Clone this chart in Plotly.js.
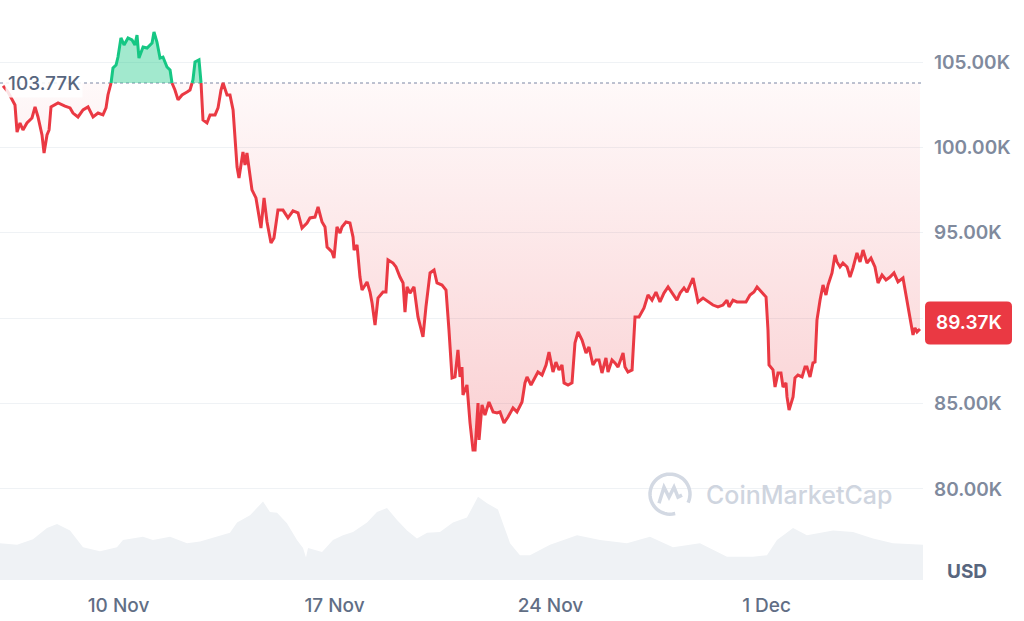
<!DOCTYPE html>
<html><head><meta charset="utf-8">
<script src="https://cdn.plot.ly/plotly-3.0.1.min.js"></script>
<style>html,body{margin:0;padding:0;background:#fff}#chart{width:1024px;height:621px}</style>
</head><body><div id="chart"></div>
<script>
// Bitcoin price (thousands USD), hours after 6 Nov 2025 00:00 UTC
const startDate = Date.UTC(2025, 10, 6, 0, 0, 0);
const priceHours = [6.2,10.1,15.5,17.1,19.4,21.7,24.8,28.7,31.1,33.4,36.5,38.1,40.4,42.0,43.5,49.0,54.4,58.3,60.6,64.5,68.4,72.3,76.2,80.1,83.9,86.3,87.8,90.2,91.7,94.1,95.6,97.9,100.3,103.4,106.5,108.8,110.4,111.9,115.1,118.2,122.1,123.6,125.9,128.3,130.6,133.7,136.1,137.6,139.9,142.3,145.4,149.3,151.6,153.9,155.5,158.6,160.2,161.7,164.8,167.2,171.1,173.4,175.7,177.3,180.4,182.7,185.1,188.2,189.7,192.8,194.4,195.9,199.8,202.9,206.8,209.2,211.5,214.6,216.9,220.0,223.9,227.8,231.7,235.6,238.7,242.6,244.9,248.8,251.2,254.3,256.6,258.2,262.0,263.6,265.9,268.3,269.8,272.9,276.0,278.4,279.2,281.5,283.8,285.4,289.3,291.6,293.2,295.5,297.8,301.7,304.0,305.6,309.5,311.8,314.9,317.3,318.8,320.4,322.7,325.8,328.9,332.8,335.1,338.3,341.4,343.7,347.6,350.7,353.0,355.4,357.7,360.0,361.6,363.1,363.9,367.0,369.4,371.7,373.3,375.6,376.4,378.7,381.0,384.1,387.3,390.4,392.7,395.8,398.9,402.8,405.9,409.8,412.1,413.7,416.8,419.9,422.2,425.4,428.5,430.8,433.9,436.2,438.6,440.9,442.5,445.6,448.7,451.0,453.4,456.5,459.6,461.9,465.0,467.4,469.7,472.0,475.1,476.7,479.8,482.1,484.5,488.4,489.9,492.2,495.4,497.7,500.8,504.7,507.8,510.9,514.0,517.1,520.2,523.4,527.2,530.3,532.7,535.8,538.1,540.5,542.8,545.1,546.7,550.6,554.5,558.3,562.2,566.1,569.2,570.8,573.9,577.0,580.9,584.0,587.1,590.2,592.6,596.5,599.6,601.1,601.9,605.0,606.6,608.9,611.2,612.8,615.1,615.9,617.5,620.6,622.1,624.4,627.6,629.9,631.4,633.8,636.1,637.7,639.2,641.6,643.9,646.2,647.8,650.9,653.2,654.8,657.1,659.4,662.6,664.9,667.2,670.3,672.7,675.0,678.1,681.2,684.3,686.7,689.8,692.9,696.0,699.1,702.2,706.1,708.4,710.8,713.9,715.4,717.0,719.3];
const priceK = [103.60,103.24,102.48,100.90,101.43,101.02,101.43,101.72,102.37,101.78,100.73,99.67,100.73,101.02,102.37,102.60,102.42,102.31,102.01,101.78,102.19,102.37,101.78,102.01,101.90,102.31,103.07,103.77,104.65,104.82,105.29,106.41,106.00,106.41,106.29,106.00,106.58,105.23,105.88,105.82,106.11,106.76,106.17,105.23,105.29,104.71,104.53,103.77,103.36,102.78,103.07,103.24,103.36,103.95,105.00,105.12,103.77,101.60,101.43,101.90,101.90,102.31,103.36,103.77,103.07,103.07,102.19,98.85,98.21,99.73,98.97,99.67,97.51,97.04,95.28,97.04,95.63,94.40,94.70,96.33,96.33,95.87,96.28,96.16,95.28,95.57,95.87,95.92,96.51,95.63,95.34,94.17,93.88,93.52,95.34,94.99,95.34,95.63,95.57,94.75,93.99,94.29,92.41,91.65,92.12,91.53,90.89,89.60,91.18,91.53,91.53,93.41,93.23,93.00,92.41,92.06,90.36,91.83,91.47,91.83,90.07,88.90,90.66,92.65,92.82,92.06,91.94,91.65,89.31,86.50,86.56,88.14,86.56,87.14,85.50,86.09,83.86,82.28,82.28,85.03,82.87,84.92,84.33,85.09,84.51,84.45,84.51,83.86,84.21,84.74,84.51,85.09,86.21,86.56,86.09,86.50,86.85,86.67,87.26,88.02,86.85,87.43,86.97,87.26,86.21,86.09,86.21,88.55,89.19,88.72,87.96,88.31,87.26,87.55,87.55,86.79,87.67,86.85,87.55,87.38,87.14,87.96,87.14,86.85,86.97,90.07,90.07,90.60,91.36,91.06,91.53,90.95,91.47,91.83,91.36,91.06,91.47,91.77,91.53,91.94,92.35,91.53,90.95,91.18,90.95,90.77,90.66,90.77,91.06,90.66,91.06,90.95,90.95,90.95,91.36,91.53,91.83,91.53,91.24,89.31,87.26,86.97,85.97,86.79,86.79,85.97,86.21,85.39,84.62,85.39,86.50,86.67,86.56,87.14,87.14,86.56,87.38,87.43,89.89,91.06,91.94,91.36,91.94,92.65,93.70,93.29,93.00,93.23,93.00,92.41,92.94,93.82,93.29,93.99,93.23,93.52,93.00,92.06,92.53,92.24,92.41,92.65,92.12,92.35,91.36,90.48,89.02,89.43,89.19,89.37];
// Trading volume (billions USD)
const volHours = [3.8,17.1,29.5,40.4,48.2,58.3,68.4,81.6,94.8,99.5,115.0,122.8,136.1,149.3,159.4,172.6,182.7,188.2,198.3,208.4,213.8,219.3,227.0,234.8,239.5,241.8,243.4,254.3,262.8,270.6,278.4,289.3,297.0,304.8,312.6,320.4,328.1,336.0,346.0,356.1,367.0,375.6,382.6,391.1,400.5,408.2,416.0,431.6,452.6,470.5,491.4,509.3,527.2,548.2,569.2,589.4,600.3,608.1,620.6,631.4,651.7,667.2,682.8,698.3,717.0,721.7];
const volumeB = [46,44,51,65,70,62,41,36,41,50,54,50,54,46,48,54,59,72,81,98,85,84,71,50,40,28,40,35,50,56,60,72,85,90,75,62,52,59,60,72,78,104,96,88,46,31,31,44,56,50,46,54,41,46,29,29,31,50,65,56,62,60,52,46,44,44];
const baseline = 103.77;
const lastPrice = 89.37;
const xRangeHours = [3.84, 721.66];
const tickDates = ['2025-11-10','2025-11-17','2025-11-24','2025-12-01'];
const tickText = ['10 Nov','17 Nov','24 Nov','1 Dec'];
const yTicks = [80,85,90,95,100,105];
const yTickText = ['80.00K','85.00K','','95.00K','100.00K','105.00K']; // 90.00K sits under the price tag

const RED = '#ea3943', GREEN = '#16c784';
function toDate(h){ return new Date(startDate + h*3600e3).toISOString().slice(0,19).replace('T',' '); }

// split the line at baseline crossings for two-colour drawing
const H=[], Y=[];
for(let i=0;i<priceK.length;i++){
  H.push(priceHours[i]); Y.push(priceK[i]);
  if(i<priceK.length-1){
    const a=priceK[i]-baseline, b=priceK[i+1]-baseline;
    if(a*b<0){ const t=a/(a-b); H.push(priceHours[i]+t*(priceHours[i+1]-priceHours[i])); Y.push(baseline); }
  }
}
const X = H.map(toDate);
const base = X.map(()=>baseline);

const traces = [
  {x: volHours.map(toDate), y: volumeB, yaxis:'y2', type:'scatter', mode:'lines', fill:'tozeroy', fillcolor:'#eff2f5', line:{width:0}, hoverinfo:'skip'},
  {x: X, y: base, type:'scatter', mode:'lines', line:{width:0}, hoverinfo:'skip'},
  {x: X, y: Y.map(v=>Math.min(v,baseline)), type:'scatter', mode:'lines', line:{width:0}, fill:'tonexty',
   fillgradient:{type:'vertical', start:82, stop:baseline, colorscale:[[0,'rgba(234,57,67,0.24)'],[1,'rgba(234,57,67,0.03)']]}, hoverinfo:'skip'},
  {x: X, y: base, type:'scatter', mode:'lines', line:{width:0}, hoverinfo:'skip'},
  {x: X, y: Y.map(v=>Math.max(v,baseline)), type:'scatter', mode:'lines', line:{width:0}, fill:'tonexty', fillcolor:'rgba(22,199,132,0.4)', hoverinfo:'skip'},
  {x: X, y: Y.map(v=>v<=baseline?v:null), type:'scatter', mode:'lines', line:{color:RED, width:3}, connectgaps:false},
  {x: X, y: Y.map(v=>v>=baseline?v:null), type:'scatter', mode:'lines', line:{color:GREEN, width:3}, connectgaps:false}
];

// CoinMarketCap logo geometry (pixels around its centre)
let arc = '';
for(let k=0;k<=40;k++){
  const ang = (-25 + k*(310/40))*Math.PI/180;
  const px = 20*Math.cos(ang), py = 20*Math.sin(ang);
  arc += (k===0?'M':'L') + px.toFixed(1) + ',' + py.toFixed(1) + ' ';
}
const mPath = 'M-11,-9 L-6,7 L-1,-3 L4,7 L8,-3 L12,-1';

const layout = {
  width:1024, height:621, paper_bgcolor:'#fff', plot_bgcolor:'#fff',
  margin:{l:0, r:101, t:0, b:41}, showlegend:false,
  font:{family:'Inter, "Open Sans", sans-serif'},
  xaxis:{type:'date', range:[toDate(xRangeHours[0]), toDate(xRangeHours[1])], tickvals:tickDates, ticktext:tickText,
    showgrid:false, zeroline:false, showline:false, ticks:'', ticklabelstandoff:12,
    tickfont:{family:'Inter', size:19, color:'#616e85', weight:500}},
  yaxis:{side:'right', range:[74.67,108.63], tickvals:yTicks, ticktext:yTickText,
    gridcolor:'#eff2f5', gridwidth:1, zeroline:false, showline:false, ticks:'', ticklabelstandoff:10,
    tickfont:{family:'Inter', size:19, color:'#808a9d', weight:600}},
  yaxis2:{overlaying:'y', range:[0,725], visible:false, fixedrange:true},
  shapes:[
    {type:'line', xref:'paper', x0:0, x1:1, yref:'y', y0:baseline, y1:baseline, layer:'below',
     line:{color:'#a6b0c3', width:1.5, dash:'dot'}},
    {type:'path', xref:'paper', xsizemode:'pixel', xanchor:1, yref:'y', ysizemode:'pixel', yanchor:lastPrice,
     path:'M7,-15.5 L84,-15.5 Q89,-15.5 89,-10.5 L89,22.5 Q89,27.5 84,27.5 L7,27.5 Q2,27.5 2,22.5 L2,-10.5 Q2,-15.5 7,-15.5 Z',
     fillcolor:RED, line:{width:0}},
    {type:'path', xref:'paper', xsizemode:'pixel', xanchor:0.7259, yref:'paper', ysizemode:'pixel', yanchor:0.148,
     path:arc, line:{color:'#d3d9e3', width:3.5}},
    {type:'path', xref:'paper', xsizemode:'pixel', xanchor:0.7259, yref:'paper', ysizemode:'pixel', yanchor:0.148,
     path:mPath, line:{color:'#d3d9e3', width:3.5}}
  ],
  annotations:[
    {xref:'paper', x:0, xanchor:'left', xshift:5, yref:'y', y:baseline, yanchor:'middle', text:baseline.toFixed(2)+'K', showarrow:false,
     font:{family:'Inter', size:19, color:'#58667e', weight:500}, bgcolor:'rgba(255,255,255,0.85)', borderpad:2},
    {xref:'paper', x:1, xanchor:'center', xshift:45.5, yref:'y', y:lastPrice, yanchor:'middle', yshift:6, text:lastPrice.toFixed(2)+'K', showarrow:false,
     font:{family:'Inter', size:19, color:'#ffffff', weight:600}},
    {xref:'paper', x:1, xanchor:'center', xshift:44, yref:'paper', y:0.0138, yanchor:'middle', text:'USD', showarrow:false,
     font:{family:'Inter', size:19, color:'#58667e', weight:700}},
    {xref:'paper', x:0.8657, xanchor:'center', yref:'paper', y:0.1466, yanchor:'middle', text:'CoinMarketCap', showarrow:false,
     font:{family:'Inter', size:25, color:'#cfd5df', weight:500}}
  ]
};
Plotly.newPlot('chart', traces, layout, {displayModeBar:false, staticPlot:true});
</script></body></html>
